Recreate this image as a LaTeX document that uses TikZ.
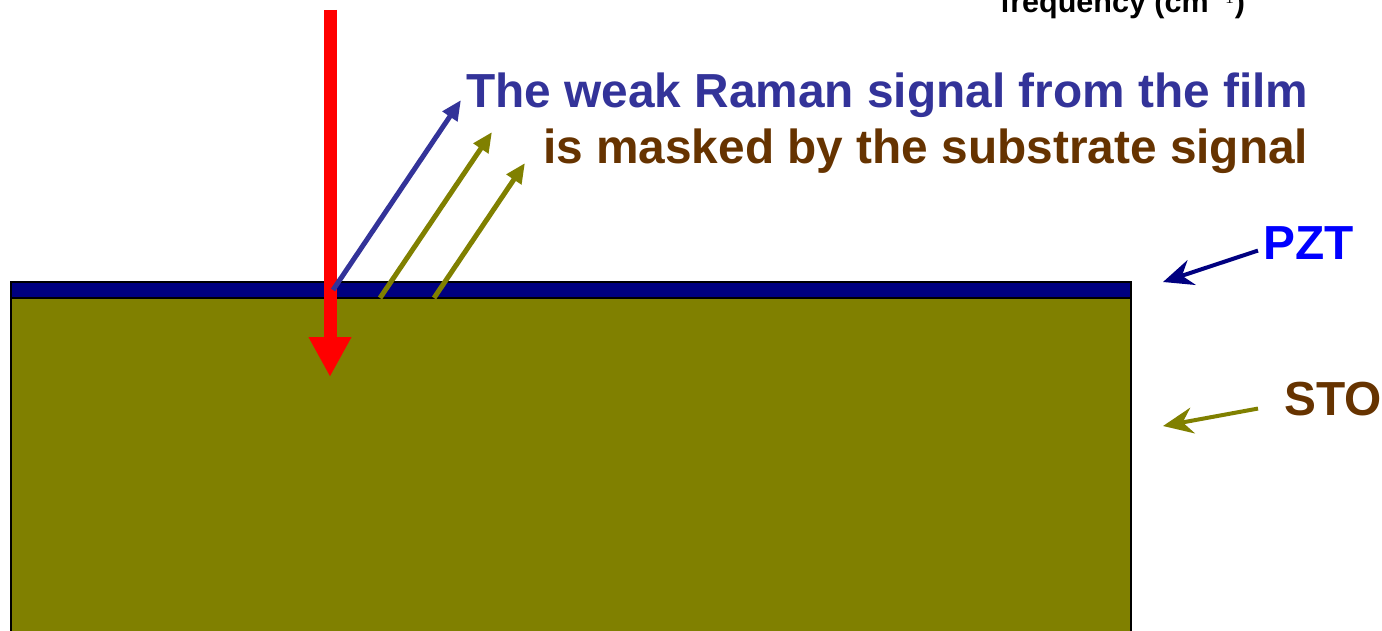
\documentclass[tikz,border=0pt]{standalone}
\usepackage{fontspec}
\setmainfont{Liberation Sans}
\usepackage{tikz}
\usetikzlibrary{arrows.meta,positioning,calc}
\definecolor{laser}{HTML}{FF0000}
\definecolor{filmray}{HTML}{333399}
\definecolor{olive}{HTML}{808000}
\definecolor{navyfilm}{HTML}{000080}
\definecolor{brownsub}{HTML}{663300}
\definecolor{pztblue}{HTML}{0000FF}

\begin{document}
\begin{tikzpicture}[x=1pt, y=-1pt,
    lbl/.style={inner sep=0pt, anchor=base west, font=\fontsize{47.8}{56}\selectfont\bfseries},
    ray/.style={line width=5pt, -{Triangle[width=17pt,length=20pt]}},
    pointer/.style={line width=4pt, -{Stealth[width=26pt,length=30pt,inset=10pt]}}]
    \useasboundingbox (0,0) rectangle (1382,631);
    \clip (0,0) rectangle (1382,631);

    % Axis label, cut by the top edge
    \node[inner sep=0pt, anchor=base west, font=\fontsize{30.5}{36}\selectfont\bfseries] (axislabel) at (1000,13) {frequency (cm$^{-1}$)};

    % Substrate and film
    \draw[line width=2pt, fill=olive] (11,298) rectangle (1131,660);
    \draw[line width=2pt, fill=navyfilm] (11,282) rectangle (1131,298);

    % Incident beam
    \coordinate (laserin) at (330,10);
    \coordinate (laserout) at (330,377);
    \draw[laser, line width=13pt, -{Triangle[width=40pt,length=40pt]}] (laserin) -- (laserout);

    % Scattered rays
    \coordinate (film0) at (333,290);
    \coordinate (film1) at (461,100);
    \coordinate (sub0) at (380,298);
    \coordinate (sub1) at (492,132);
    \coordinate (sub2) at (434,298);
    \coordinate (sub3) at (525,163);
    \draw[ray, filmray] (film0) -- (film1);
    \draw[ray, olive] (sub0) -- (sub1);
    \draw[ray, olive] (sub2) -- (sub3);

    % Texts
    \node[lbl, filmray] (line1) at (466,108) {The weak Raman signal from the film};
    \node[lbl, brownsub] (line2) at (543,164) {is masked by the substrate signal};
    \node[lbl, pztblue] (pztlabel) at (1263,259) {PZT};
    \node[lbl, brownsub] (stolabel) at (1284,415) {STO};

    % Pointers
    \coordinate (pzttip) at (1163,282);
    \coordinate (stotip) at (1163,426);
    \draw[pointer, navyfilm] ($(pztlabel.west)+(-5,8)$) -- (pzttip);
    \draw[pointer, olive] ($(stolabel.west)+(-26,10)$) -- (stotip);
\end{tikzpicture}
\end{document}
